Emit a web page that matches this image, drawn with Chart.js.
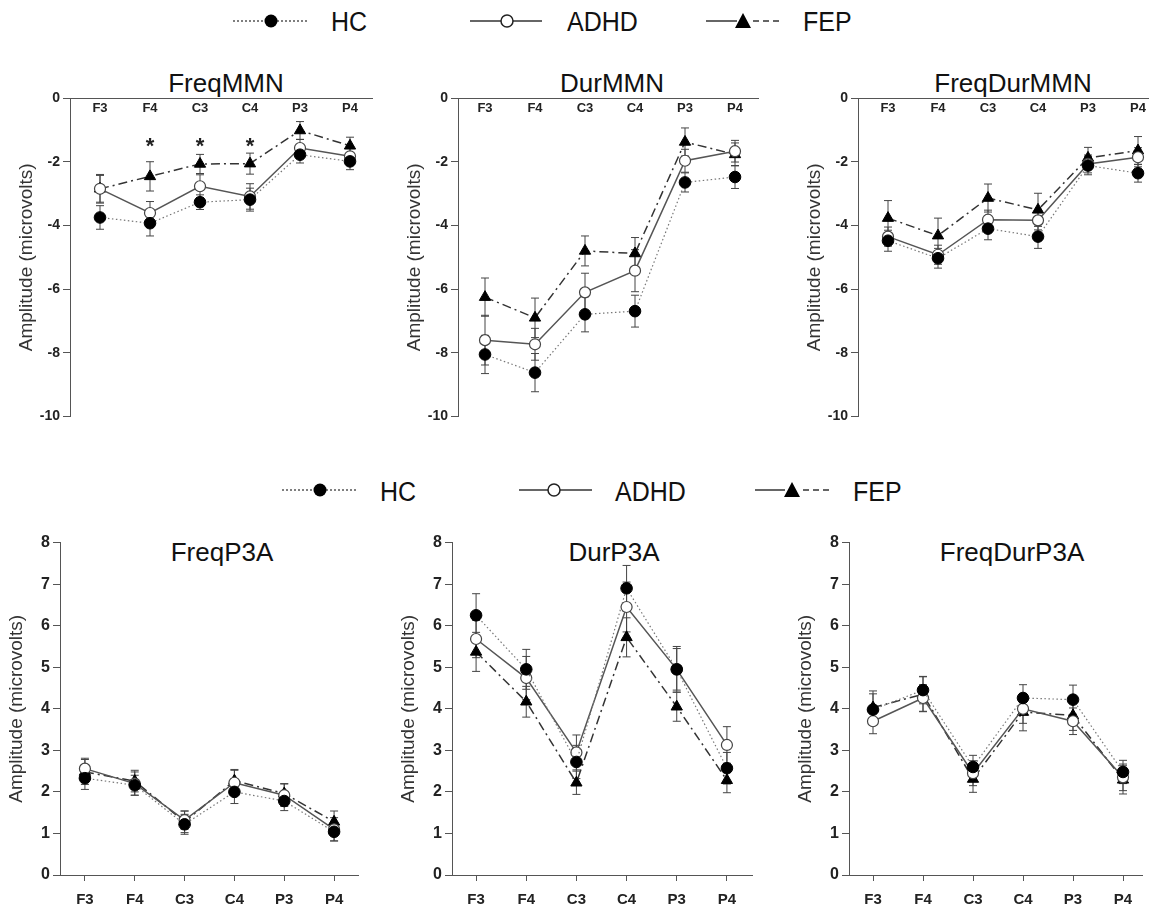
<!DOCTYPE html>
<html>
<head>
<meta charset="utf-8">
<script src="https://cdn.jsdelivr.net/npm/chart.js@4.4.1/dist/chart.umd.min.js"></script>
<style>
  html, body { margin: 0; padding: 0; background: #fff; width: 1150px; height: 907px; overflow: hidden; position: relative; }
  canvas { position: absolute; }
  svg { position: absolute; left: 0; top: 0; }
  svg text { font-family: "Liberation Sans", Arial, sans-serif; fill: #111; }
</style>
</head>
<body>
<svg width="1150" height="907">
  <!-- legend, top row -->
  <line x1="233" y1="21" x2="308" y2="21" stroke="#555" stroke-width="1.5" stroke-dasharray="2,2"/>
  <circle cx="271" cy="21" r="6.5" fill="#000"/>
  <text x="331" y="31" font-size="25" transform="translate(0,31) scale(1,1.12) translate(0,-31)">HC</text>
  <line x1="470" y1="21" x2="542" y2="21" stroke="#333" stroke-width="1.5"/>
  <circle cx="507" cy="21" r="6" fill="#fff" stroke="#222" stroke-width="1.5"/>
  <text x="567" y="31" font-size="25" transform="translate(0,31) scale(1,1.12) translate(0,-31)">ADHD</text>
  <line x1="706" y1="21" x2="737" y2="21" stroke="#333" stroke-width="1.5"/>
  <polygon points="743,13 735,28 751,28" fill="#000"/>
  <line x1="753" y1="21" x2="779" y2="21" stroke="#333" stroke-width="1.5" stroke-dasharray="6,4"/>
  <text x="803" y="31" font-size="25" transform="translate(0,31) scale(1,1.12) translate(0,-31)">FEP</text>

  <!-- legend, bottom row -->
  <line x1="282" y1="490" x2="358" y2="490" stroke="#555" stroke-width="1.5" stroke-dasharray="2,2"/>
  <circle cx="320" cy="490" r="6.5" fill="#000"/>
  <text x="380" y="501" font-size="25" transform="translate(0,501) scale(1,1.12) translate(0,-501)">HC</text>
  <line x1="519" y1="490" x2="592" y2="490" stroke="#333" stroke-width="1.5"/>
  <circle cx="554" cy="490" r="6" fill="#fff" stroke="#222" stroke-width="1.5"/>
  <text x="615" y="501" font-size="25" transform="translate(0,501) scale(1,1.12) translate(0,-501)">ADHD</text>
  <line x1="755" y1="490" x2="785" y2="490" stroke="#333" stroke-width="1.5"/>
  <polygon points="792,482 784,497 800,497" fill="#000"/>
  <line x1="803" y1="490" x2="829" y2="490" stroke="#333" stroke-width="1.5" stroke-dasharray="6,4"/>
  <text x="853" y="501" font-size="25" transform="translate(0,501) scale(1,1.12) translate(0,-501)">FEP</text>

  <!-- panel titles -->
  <text x="226" y="92" font-size="26" text-anchor="middle">FreqMMN</text>
  <text x="612" y="92" font-size="26" text-anchor="middle">DurMMN</text>
  <text x="1013" y="92" font-size="26" text-anchor="middle">FreqDurMMN</text>
  <text x="222" y="561" font-size="26" text-anchor="middle">FreqP3A</text>
  <text x="614" y="561" font-size="26" text-anchor="middle">DurP3A</text>
  <text x="1012" y="561" font-size="26" text-anchor="middle">FreqDurP3A</text>
</svg>

<canvas id="freqMmn"></canvas>
<canvas id="durMmn"></canvas>
<canvas id="freqDurMmn"></canvas>
<canvas id="freqP3a"></canvas>
<canvas id="durP3a"></canvas>
<canvas id="freqDurP3a"></canvas>

<script>
const electrodes = ['F3', 'F4', 'C3', 'C4', 'P3', 'P4'];
const groups = ['HC', 'ADHD', 'FEP'];

// FreqMMN (mean, SE)
const freqMmnHC = [-3.75, -3.93, -3.27, -3.19, -1.78, -1.99];
const freqMmnHCse = [0.37, 0.40, 0.23, 0.36, 0.26, 0.26];
const freqMmnADHD = [-2.85, -3.61, -2.77, -3.09, -1.57, -1.83];
const freqMmnADHDse = [0.42, 0.36, 0.36, 0.40, 0.27, 0.25];
const freqMmnFEP = [-2.85, -2.46, -2.07, -2.06, -1.02, -1.50];
const freqMmnFEPse = [0.45, 0.46, 0.30, 0.33, 0.28, 0.27];
const freqMmnSig = [1, 2, 3];   // electrodes marked with *
const freqMmnSigLevel = -1.36;

// DurMMN
const durMmnHC = [-8.05, -8.62, -6.79, -6.69, -2.65, -2.48];
const durMmnHCse = [0.60, 0.60, 0.55, 0.50, 0.30, 0.36];
const durMmnADHD = [-7.60, -7.73, -6.10, -5.42, -1.97, -1.67];
const durMmnADHDse = [0.78, 0.50, 0.60, 0.66, 0.36, 0.34];
const durMmnFEP = [-6.25, -6.90, -4.80, -4.88, -1.38, -1.77];
const durMmnFEPse = [0.60, 0.62, 0.47, 0.50, 0.44, 0.36];

// FreqDurMMN
const freqDurMmnHC = [-4.48, -5.03, -4.10, -4.35, -2.12, -2.36];
const freqDurMmnHCse = [0.33, 0.31, 0.35, 0.37, 0.29, 0.28];
const freqDurMmnADHD = [-4.35, -4.92, -3.82, -3.84, -2.07, -1.86];
const freqDurMmnADHDse = [0.30, 0.30, 0.30, 0.30, 0.28, 0.30];
const freqDurMmnFEP = [-3.77, -4.32, -3.14, -3.51, -1.88, -1.65];
const freqDurMmnFEPse = [0.55, 0.55, 0.44, 0.52, 0.33, 0.44];

// FreqP3A
const freqP3aHC = [2.33, 2.16, 1.22, 2.00, 1.78, 1.04];
const freqP3aHCse = [0.27, 0.24, 0.24, 0.28, 0.23, 0.22];
const freqP3aADHD = [2.56, 2.20, 1.32, 2.22, 1.92, 1.10];
const freqP3aADHDse = [0.25, 0.28, 0.22, 0.30, 0.27, 0.28];
const freqP3aFEP = [2.48, 2.26, 1.28, 2.27, 1.96, 1.28];
const freqP3aFEPse = [0.30, 0.26, 0.26, 0.27, 0.24, 0.26];

// DurP3A
const durP3aHC = [6.25, 4.95, 2.72, 6.90, 4.95, 2.57];
const durP3aHCse = [0.52, 0.48, 0.40, 0.55, 0.50, 0.38];
const durP3aADHD = [5.68, 4.74, 2.95, 6.45, 4.95, 3.13];
const durP3aADHDse = [0.45, 0.52, 0.42, 0.60, 0.55, 0.44];
const durP3aFEP = [5.37, 4.17, 2.22, 5.72, 4.05, 2.28];
const durP3aFEPse = [0.47, 0.37, 0.28, 0.47, 0.35, 0.30];

// FreqDurP3A
const freqDurP3aHC = [3.98, 4.45, 2.60, 4.26, 4.22, 2.48];
const freqDurP3aHCse = [0.38, 0.33, 0.28, 0.32, 0.35, 0.28];
const freqDurP3aADHD = [3.70, 4.26, 2.45, 4.00, 3.70, 2.35];
const freqDurP3aADHDse = [0.30, 0.32, 0.30, 0.35, 0.32, 0.32];
const freqDurP3aFEP = [4.03, 4.35, 2.31, 3.92, 3.84, 2.29];
const freqDurP3aFEPse = [0.40, 0.42, 0.32, 0.45, 0.36, 0.34];

const FONT = '"Liberation Sans", Arial, sans-serif';
const AXIS = '#555';

const groupStyle = [
  { borderColor: '#777', borderWidth: 1.2, borderDash: [1.5, 2.5], pointStyle: 'circle', pointRadius: 5.8,
    pointBackgroundColor: '#000', pointBorderColor: '#000', pointBorderWidth: 1 },
  { borderColor: '#555', borderWidth: 1.5, borderDash: [], pointStyle: 'circle', pointRadius: 5.5,
    pointBackgroundColor: '#fff', pointBorderColor: '#444', pointBorderWidth: 1.2 },
  { borderColor: '#333', borderWidth: 1.5, borderDash: [9, 4, 2, 4], pointStyle: 'triangle', pointRadius: 6.5,
    pointBackgroundColor: '#000', pointBorderColor: '#000', pointBorderWidth: 1 }
];

// draws mean +/- SE whiskers under the markers
const errorBarPlugin = {
  id: 'errorBars',
  beforeDatasetsDraw(chart) {
    const ctx = chart.ctx, xs = chart.scales.x, ys = chart.scales.y;
    ctx.save();
    ctx.strokeStyle = '#444';
    ctx.lineWidth = 1;
    chart.data.datasets.forEach(ds => {
      ds.data.forEach((p, i) => {
        const px = xs.getPixelForValue(p.x);
        const y1 = ys.getPixelForValue(p.y + ds.errorBars[i]);
        const y2 = ys.getPixelForValue(p.y - ds.errorBars[i]);
        ctx.beginPath();
        ctx.moveTo(px, y1); ctx.lineTo(px, y2);
        ctx.moveTo(px - 4, y1); ctx.lineTo(px + 4, y1);
        ctx.moveTo(px - 4, y2); ctx.lineTo(px + 4, y2);
        ctx.stroke();
      });
    });
    ctx.restore();
  }
};

// electrode names just under the top axis, plus significance stars
const topLabelPlugin = {
  id: 'topLabels',
  afterDraw(chart, args, opts) {
    if (!opts.show) return;
    const ctx = chart.ctx, xs = chart.scales.x, ys = chart.scales.y;
    ctx.save();
    ctx.fillStyle = '#222';
    ctx.textAlign = 'center';
    ctx.textBaseline = 'middle';
    ctx.font = 'bold 13px ' + FONT;
    electrodes.forEach((t, i) => ctx.fillText(t, xs.getPixelForValue(i), chart.chartArea.top + 10));
    if (opts.sig) {
      ctx.font = 'bold 22px ' + FONT;
      ctx.textBaseline = 'alphabetic';
      opts.sig.forEach(i => ctx.fillText('*', xs.getPixelForValue(i), ys.getPixelForValue(opts.sigLevel) + 12));
    }
    ctx.restore();
  }
};

function makePanel(id, box, yRange, means, errors, top, sig) {
  const canvas = document.getElementById(id);
  canvas.width = box.width;
  canvas.height = box.height;
  canvas.style.left = box.left + 'px';
  canvas.style.top = box.top + 'px';

  const datasets = groups.map((g, k) => Object.assign({
    label: g,
    data: means[k].map((v, i) => ({ x: i, y: v })),
    errorBars: errors[k],
    fill: false,
    tension: 0,
    clip: false
  }, groupStyle[k]));

  new Chart(canvas.getContext('2d'), {
    type: 'line',
    data: { datasets: datasets },
    plugins: [errorBarPlugin, topLabelPlugin],
    options: {
      responsive: false,
      animation: false,
      devicePixelRatio: 1,
      layout: { autoPadding: false, padding: box.padding },
      plugins: {
        legend: { display: false },
        tooltip: { enabled: false },
        topLabels: { show: top, sig: sig ? sig.idx : null, sigLevel: sig ? sig.level : 0 }
      },
      scales: {
        x: {
          type: 'linear',
          position: top ? 'top' : 'bottom',
          min: box.xMin,
          max: box.xMax,
          afterBuildTicks: s => { s.ticks = electrodes.map((_, i) => ({ value: i })); },
          afterFit: s => { s.height = top ? 0 : 40; },
          grid: { display: true, drawOnChartArea: false, drawTicks: !top, tickLength: 6, color: AXIS },
          border: { display: true, color: AXIS, width: 1 },
          ticks: {
            display: !top,
            callback: v => electrodes[v],
            font: { size: 15, weight: 'bold', family: FONT },
            color: '#222', padding: 10, maxRotation: 0, autoSkip: false
          }
        },
        y: {
          min: yRange[0],
          max: yRange[1],
          afterFit: s => { s.width = 55; },
          grid: { drawOnChartArea: false, drawTicks: true, tickLength: 7, color: AXIS },
          border: { display: true, color: AXIS, width: 1 },
          ticks: {
            stepSize: yRange[2],
            font: { size: top ? 14 : 16, weight: 'bold', family: FONT },
            color: '#222', padding: 3
          },
          title: {
            display: true, text: 'Amplitude (microvolts)',
            font: { size: 19, family: FONT }, color: '#333', padding: 0
          }
        }
      }
    }
  });
}

const mmnRange = [-10, 0, 2];
const p3aRange = [0, 8, 1];
const topPad = { top: 13, bottom: 10, left: 0, right: 4 };
const botPad = { top: 12, bottom: 0, left: 0, right: 4 };

makePanel('freqMmn', { left: 15, top: 85, width: 361, height: 343, xMin: -0.6, xMax: 5.44, padding: topPad },
  mmnRange, [freqMmnHC, freqMmnADHD, freqMmnFEP], [freqMmnHCse, freqMmnADHDse, freqMmnFEPse], true,
  { idx: freqMmnSig, level: freqMmnSigLevel });
makePanel('durMmn', { left: 403, top: 85, width: 359, height: 343, xMin: -0.54, xMax: 5.46, padding: topPad },
  mmnRange, [durMmnHC, durMmnADHD, durMmnFEP], [durMmnHCse, durMmnADHDse, durMmnFEPse], true);
makePanel('freqDurMmn', { left: 803, top: 85, width: 349, height: 343, xMin: -0.6, xMax: 5.2, padding: topPad },
  mmnRange, [freqDurMmnHC, freqDurMmnADHD, freqDurMmnFEP], [freqDurMmnHCse, freqDurMmnADHDse, freqDurMmnFEPse], true);

makePanel('freqP3a', { left: 5, top: 530, width: 357, height: 385, xMin: -0.5, xMax: 5.48, padding: botPad },
  p3aRange, [freqP3aHC, freqP3aADHD, freqP3aFEP], [freqP3aHCse, freqP3aADHDse, freqP3aFEPse], false);
makePanel('durP3a', { left: 397, top: 530, width: 359, height: 385, xMin: -0.48, xMax: 5.5, padding: botPad },
  p3aRange, [durP3aHC, durP3aADHD, durP3aFEP], [durP3aHCse, durP3aADHDse, durP3aFEPse], false);
makePanel('freqDurP3a', { left: 794, top: 530, width: 352, height: 385, xMin: -0.48, xMax: 5.38, padding: botPad },
  p3aRange, [freqDurP3aHC, freqDurP3aADHD, freqDurP3aFEP], [freqDurP3aHCse, freqDurP3aADHDse, freqDurP3aFEPse], false);
</script>
</body>
</html>
